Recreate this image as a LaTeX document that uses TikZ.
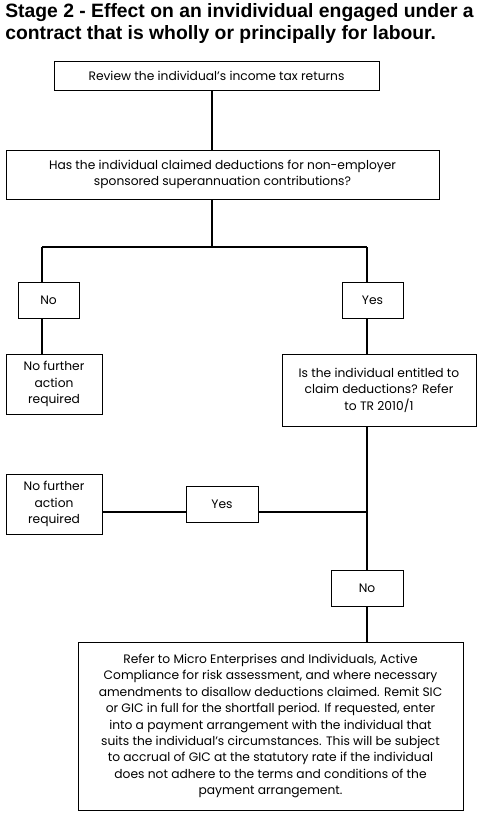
\documentclass[tikz,border=0pt]{standalone}
\usepackage{fontspec}
\setmainfont{Poppins}
\newfontfamily\ttlfont{Liberation Sans}
\usetikzlibrary{calc}
\definecolor{INK}{HTML}{000000}

\begin{document}
\begin{tikzpicture}[x=0.75pt,y=-0.75pt]
\tikzset{bx/.style={draw=INK,line width=0.75pt,align=center,inner sep=2pt,font=\fontsize{9.2}{12.3}\selectfont},
 conn/.style={INK,line width=2.2pt}}
\useasboundingbox (0,0) rectangle (479,840);
\node[anchor=north west,inner sep=0pt,align=left,font=\ttlfont\bfseries\fontsize{14.5}{16.5}\selectfont] (ttl) at (5,3)
 {Stage 2 - Effect on an invidividual engaged under a\\contract that is wholly or principally for labour.};
\node[bx,minimum width=243.75pt,minimum height=21.75pt] (rev) at (216.5,75.5) {Review the individual’s income tax returns};
\node[bx,minimum width=324.75pt,minimum height=36.75pt] (q1) at (222.5,174.5)
 {Has the individual claimed deductions for non-employer\\sponsored superannuation contributions?};
\node[bx,minimum width=45.75pt,minimum height=27pt] (no1) at (48.5,300) {No};
\node[bx,minimum width=45.75pt,minimum height=27pt] (yes1) at (372.5,300) {Yes};
\node[bx,minimum width=72pt,minimum height=45pt] (nfa1) at (54,384) {No further\\action\\required};
\node[bx,minimum width=145.5pt,minimum height=54pt] (q2) at (379,390)
 {Is the individual entitled to\\claim deductions? Refer\\to TR 2010/1};
\node[bx,minimum width=72pt,minimum height=45pt] (nfa2) at (54,504) {No further\\action\\required};
\node[bx,minimum width=54pt,minimum height=27pt] (yes2) at (222,504) {Yes};
\node[bx,minimum width=54pt,minimum height=27pt] (no2) at (367,588) {No};
\node[bx,minimum width=288.75pt,minimum height=126pt] (act) at (270.5,726)
 {Refer to Micro Enterprises and Individuals, Active\\Compliance for risk assessment, and where necessary\\amendments to disallow deductions claimed. Remit SIC\\or GIC in full for the shortfall period. If requested, enter\\into a payment arrangement with the individual that\\suits the individual’s circumstances. This will be subject\\to accrual of GIC at the statutory rate if the individual\\does not adhere to the terms and conditions of the\\payment arrangement.};
\coordinate (split) at (212,247);
\coordinate (lft) at (42,247);
\coordinate (rgt) at (367,247);
\coordinate (tee) at (367,512);
\draw[conn] (rev.south -| split)--(q1.north -| split);
\draw[conn] (q1.south -| split)--(split);
\draw[conn] (lft)--(rgt);
\draw[conn] (lft)--(lft |- no1.north);
\draw[conn] (no1.south -| lft)--(nfa1.north -| lft);
\draw[conn] (rgt)--(rgt |- yes1.north);
\draw[conn] (yes1.south -| rgt)--(q2.north -| rgt);
\draw[conn] (q2.south -| rgt)--(no2.north);
\draw[conn] (tee)--(tee -| yes2.east);
\draw[conn] (tee -| yes2.west)--(tee -| nfa2.east);
\draw[conn] (no2.south)--(act.north -| no2);
\end{tikzpicture}
\end{document}
